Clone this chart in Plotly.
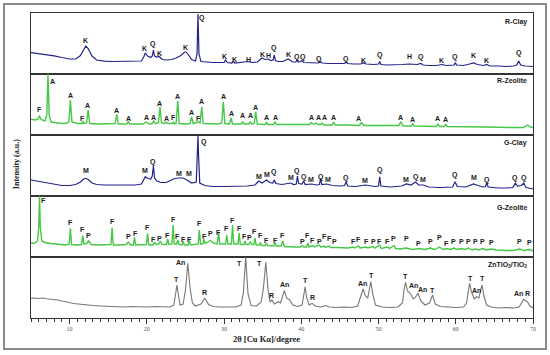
import plotly.graph_objects as go
from plotly.subplots import make_subplots

# ---------------- data: (2theta, intensity a.u.) ----------------
r_clay_pts = [(5,21.3),(6,20.5),(7,19.6),(8,18.2),(9,16.5),(10,15),(10.8,15),(11.4,18.5),(11.8,24),(12.1,28),
    (12.4,25.5),(12.9,18),(13.5,14),(14.5,12.8),(15.5,12.5),(16.5,12.7),(17.5,12.2),(18.5,12.5),(19.3,13),
    (19.6,17),(19.8,21),(20.1,18),(20.5,16.5),(20.7,18),(20.85,24),(21.0,18),(21.3,17),(21.6,17.5),(22.0,14.5),
    (22.6,14),(23.2,14.5),(23.8,16),(24.4,18.5),(24.9,22),(25.1,22),(25.4,19),(25.8,14.5),(26.3,13),(26.5,20),
    (26.62,60),(26.75,20),(27.0,12.5),(27.5,12),(28.5,11.5),(29.5,11.5),(30.0,11.5),(30.2,14),(30.4,11.5),
    (31.0,11),(31.2,12.5),(31.4,11),(32.2,11.5),(33.1,12.5),(33.6,11.5),(34.3,12),(34.9,16),(35.3,14.5),
    (35.7,15),(36.1,13.5),(36.35,14),(36.5,19),(36.65,13.5),(37.0,12.5),(37.6,12.5),(38.3,15),(38.9,12),
    (39.3,12),(39.45,14),(39.6,12),(39.9,12.5),(40.05,13.5),(40.3,11.5),(41.2,11),(42.2,11),(42.45,12.5),
    (42.7,11),(43.5,10.5),(44.5,10.5),(45.6,10.5),(45.8,12),(46.0,10.5),(46.8,10),(47.7,10),(48.0,11),
    (48.4,10),(49.4,9.5),(50.0,10),(50.15,12.5),(50.3,9.5),(51,9),(52,9),(53,9.5),(54,10),(55,9.5),
    (55.45,10.5),(55.8,9),(56.5,8.5),(57.5,8.5),(58.2,9.5),(58.8,8.5),(59.8,9),(59.95,11.5),(60.1,9),
    (61.0,8.5),(61.8,10),(62.3,11),(62.8,9.5),(63.6,8.5),(64.0,9.5),(64.4,8),(65.5,8),(66.5,7.5),(67.5,8),
    (67.9,9),(68.15,13),(68.4,9),(69.0,8),(70,7.5)]

r_zeo_pts = [(5,15.7),(5.6,15),(5.9,16),(6.1,19.3),(6.3,15.5),(6.8,14),(7.05,20),(7.2,61),(7.35,20),(7.6,13),
    (8.5,12),(9.5,11.5),(9.9,13),(10.1,35),(10.3,13),(11.0,11.5),(11.6,11.5),(11.7,14),(11.85,11.5),(12.2,12),
    (12.4,25),(12.6,11.5),(13.5,11),(14.5,11.2),(15.0,11.5),(15.9,11.5),(16.1,20.7),(16.3,11),(17.4,11),
    (17.6,13.5),(17.8,11),(18.5,11),(19.5,11),(19.9,13),(20.3,11),(20.7,11.5),(20.9,14),(21.1,11.5),(21.5,12),
    (21.7,28.3),(21.9,12),(22.3,11.5),(22.5,13),(22.7,11.5),(23.3,11.5),(23.45,13),(23.6,11),(23.8,12),
    (24.0,34),(24.2,11.5),(25.0,11),(25.6,11.5),(25.8,18),(26.0,11.5),(26.6,13),(26.9,12),(27.1,28.3),
    (27.3,11.5),(28.5,11),(29.2,11),(29.7,12),(29.9,33.3),(30.1,11.5),(30.7,11),(30.9,17),(31.1,11),(32.2,11),
    (32.4,13),(32.6,11),(33.2,11),(33.4,13),(33.6,11),(33.9,11.5),(34.1,23.3),(34.3,11),(35.3,10.5),(35.5,12.5),
    (35.7,10.5),(36.4,10.5),(36.6,13),(36.8,10.5),(38,10.5),(39.5,10),(40.5,10),(41.1,10.5),(41.3,12.5),
    (41.6,10.5),(41.9,12),(42.2,10.5),(42.5,10.5),(42.7,12),(42.9,10),(44.0,10),(44.2,13),(44.4,10),(46,10),
    (47.5,9.5),(47.8,12.5),(48.1,9.5),(50,9.5),(52.6,9.5),(52.9,13),(53.2,9),(54.2,9),(54.4,11),(54.6,9),
    (56,8.5),(57.5,8.5),(57.7,11),(57.9,8.5),(58.5,8.5),(58.7,10.5),(58.9,8.5),(61,8),(64,8),(67,7.5),
    (68.8,7.5),(69.3,10),(69.7,8),(70,7.5)]

g_clay_pts = [(5,16),(6,14.5),(7,13),(8,11.5),(9,10.5),(10,10.5),(10.8,11.5),(11.4,14),(11.8,17),(12.1,17.7),
    (12.4,16.5),(12.9,13),(13.5,11.5),(14.5,11),(15.5,11),(16.5,11),(17.5,11),(18.5,11),(19.3,12),(19.6,16.5),
    (19.8,19.3),(20.1,17.5),(20.5,17),(20.7,20),(20.85,30),(21.0,18),(21.3,15),(21.8,13.5),(22.5,13.5),
    (23.2,16),(23.6,17.5),(24.2,18),(24.7,18),(25.2,16),(25.8,13),(26.4,14),(26.55,40),(26.62,60),(26.7,40),
    (26.85,13),(27.5,10.5),(28.5,9.5),(30,9.5),(31.5,9.5),(33,10),(34,11),(34.5,15),(34.9,13),(35.5,16),
    (35.9,13.5),(36.3,13),(36.5,16),(36.7,12.5),(37.5,11.5),(38.2,12),(38.6,13),(39.0,11.5),(39.35,12),
    (39.5,20),(39.65,12.5),(40.1,12),(40.3,15),(40.5,11.5),(41.3,12),(42.0,11),(42.35,11.5),(42.5,17.7),
    (42.65,11.5),(43.3,12),(44.0,10.5),(45.0,10),(45.6,10.5),(45.8,14),(46.0,10),(47,9.5),(48.3,11),(49.5,9.5),
    (50.0,10),(50.15,19.3),(50.3,10),(51.5,9),(53,10),(53.6,12),(54.2,11),(54.8,14),(55.2,11),(55.8,11),
    (56.5,9),(58,8.5),(59.6,9),(59.9,14.3),(60.2,9.5),(61.3,9),(62.0,11),(62.3,12),(62.7,11),(63.5,9),
    (63.85,9.5),(64.0,13),(64.2,9),(65.5,8),(66.5,8),(67.4,8.5),(67.7,13),(68.0,10),(68.5,10.5),(68.8,13),
    (69.1,8.5),(70,7)]

g_zeo_pts = [(5,13.7),(5.5,14),(5.85,16),(6.0,30),(6.1,61),(6.2,30),(6.4,16),(6.8,14.5),(7.5,13.5),(8.5,12.5),
    (9.5,12),(9.95,13),(10.1,28.7),(10.25,12.5),(11.0,12),(11.55,12.5),(11.7,21.3),(11.85,13),(12.2,13.5),
    (12.45,16),(12.8,12.5),(13.5,12),(14.5,12),(15.35,12.5),(15.5,29.3),(15.65,12),(16.5,12),(17.3,12.5),
    (17.6,15),(17.9,12),(18.25,12),(18.4,19.7),(18.55,12),(19.5,12),(19.95,12.5),(20.1,23.7),(20.25,12),
    (20.8,12),(21.0,15),(21.2,12.5),(21.55,13),(21.75,16),(22.0,12.5),(22.55,12.5),(22.7,18),(22.85,12.5),
    (23.25,13),(23.4,32),(23.55,13),(23.85,13),(24.0,17),(24.15,12.5),(24.55,12),(24.7,15.5),(24.85,12),
    (25.35,12),(25.5,16.5),(25.65,12),(26.1,12.5),(26.65,13),(26.8,27),(26.95,13),(27.25,13),(27.4,18),
    (27.55,13.5),(27.9,15),(28.2,16.5),(28.6,14),(29.1,13),(29.3,24),(29.45,13),(30.2,13),(30.35,22),
    (30.5,13),(30.95,13),(31.1,32),(31.25,13),(31.8,13),(31.95,24),(32.1,12.5),(32.55,12.5),(32.7,16),
    (32.85,12.5),(33.2,12.5),(33.4,15),(33.6,12.5),(33.85,12.5),(34.0,19),(34.15,12),(34.55,12),(34.7,14.5),
    (34.85,11.5),(35.35,11.5),(35.5,13.5),(35.65,11.5),(36.45,11),(36.6,14.5),(36.75,11),(37.4,11),(37.6,16),
    (37.8,10.5),(39,10),(39.9,10),(40.1,11.5),(40.3,10),(40.7,10),(40.85,14),(41.0,10),(41.5,11.5),(41.7,10),
    (42.3,12),(42.5,10),(42.95,11),(43.1,9.5),(43.6,11),(43.8,9.5),(44.35,10),(44.6,9.5),(46,9),(46.7,10),
    (46.9,9),(47.4,11),(47.6,9),(48.4,10),(48.6,9),(49.3,10.5),(49.5,9),(50.15,12),(50.35,8.5),(51.2,10),
    (51.4,8.5),(52.0,11.5),(52.2,8.5),(52.8,8),(53.6,9),(54.4,7.5),(55.2,8.5),(56.0,7.5),(56.7,9),(57.3,7.5),
    (57.9,10),(58.35,7.5),(58.8,8.5),(59.3,7.5),(59.75,9),(60.2,7.5),(60.7,8.5),(61.2,7.5),(61.65,9),
    (62.1,7),(62.55,8),(63.0,7),(63.5,8.5),(64.0,7),(64.6,8),(65.2,7),(66.5,6.5),(67.5,6.5),(68.25,8),
    (68.8,6.5),(69.6,7.5),(70,6)]

zt_pts = [(5,19.7),(5.5,20),(6,19.5),(6.5,20),(7,19.3),(7.5,19),(8,18.5),(8.5,18),(9,17),(9.5,16.5),(10,15.5),
    (10.5,14.5),(11,14),(12,13),(13,12.5),(14,12),(15,11.5),(16,11.5),(17,11),(18,11.5),(19,11),(20,11),
    (21,11.5),(22,11),(23,11),(23.5,13),(23.75,25),(23.9,33),(24.05,25),(24.3,13),(24.7,14),(25.0,28),
    (25.3,54.7),(25.6,30),(25.9,15),(26.3,12),(27.0,14),(27.5,19.7),(28.0,13.5),(28.6,11.5),(29.5,11),
    (30.5,11),(31.5,11),(32.2,13),(32.5,25),(32.8,60.7),(33.1,24),(33.5,12.5),(34.2,12),(34.8,16),(35.1,30),
    (35.4,55.7),(35.7,28),(35.95,16),(36.2,18),(36.5,14),(37.0,16.3),(37.3,15),(37.6,22),(37.8,27.3),
    (38.1,20),(38.5,18),(38.9,13),(39.5,11.5),(40.1,13),(40.3,22),(40.5,31.3),(40.7,20),(41.0,13),(41.4,14.7),
    (41.8,12),(42.5,11),(43.2,12.5),(43.6,11),(44.5,10.5),(45.5,11),(46.5,10.5),(47.3,12),(47.7,22),(48.0,29),
    (48.3,22),(48.6,20),(48.8,28),(49.0,36.3),(49.25,24),(49.6,13),(50.5,11),(51.5,10.5),(52.5,11),(53.1,15),
    (53.3,28),(53.5,35.7),(53.75,27),(54.1,24.7),(54.5,19),(54.8,21),(55.1,24.7),(55.5,17),(56.0,13),
    (56.6,15),(57.0,23),(57.35,14),(58,11.5),(59,11),(60,10.5),(61,11),(61.4,15),(61.65,28),(61.8,34.7),
    (62.0,27),(62.4,19),(62.7,21.3),(63.0,20),(63.2,27),(63.4,33),(63.65,22),(64.0,13),(64.6,11),(65.5,10),
    (66.5,10.5),(67.5,10),(68.2,11),(68.5,15),(68.8,18.7),(69.1,17),(69.3,16),(69.6,12),(70,10)]

# ---------------- peak labels: (text, 2theta, height) ----------------
r_clay_labels = [("K",12.1,33.3),("K",19.7,25.7),("Q",20.8,29.7),("K",21.6,20.7),("K",25.05,26.7),
    ("Q",27.1,55.7),("K",30.1,18),("K",31.3,14.7),("H",33.1,15),("K",34.95,20),("H",35.8,19),("Q",36.5,26.3),
    ("K",38.3,20),("Q",39.4,17.3),("Q",40.2,17.3),("Q",42.3,14.7),("Q",45.8,14.7),("K",48.0,13.3),
    ("Q",50.15,19),("H",54.0,17.3),("Q",55.45,17.3),("K",58.2,13.3),("Q",59.9,17.3),("K",62.3,19),
    ("K",64.0,14),("Q",68.2,21.3)]

r_zeo_labels = [("A",7.8,53.7),("F",6.1,25.7),("A",10.15,39.3),("F",11.7,16.7),("A",12.35,29.3),("A",16.1,24),
    ("A",17.6,16),("A",19.9,17.3),("A",20.9,17.3),("A",21.7,31.7),("A",22.5,16),("F",23.4,17.7),("A",24.0,38.3),
    ("A",25.8,22.7),("F",26.7,16.7),("A",27.1,33.3),("A",29.9,38.3),("A",30.9,21.7),("A",32.4,19),
    ("A",33.4,19),("A",34.1,27.7),("A",35.5,17.7),("A",36.6,17.7),("A",41.3,17.3),("A",42.2,17.3),
    ("A",43.05,17.3),("A",44.2,17.7),("A",47.35,16.7),("A",52.9,17.7),("A",54.4,15.7),("A",57.6,16),
    ("A",58.7,15.7)]

g_clay_labels = [("M",12.1,25),("M",19.7,25),("Q",20.8,34.3),("M",24.2,22.7),("M",25.4,22.7),("Q",27.4,53.7),
    ("M",34.5,19.3),("M",35.5,21.7),("Q",36.5,23.7),("M",38.6,18.3),("Q",39.5,25),("Q",40.4,19.3),
    ("M",41.3,16),("Q",42.5,19.3),("M",43.5,16),("Q",45.8,18.3),("M",48.3,15),("Q",50.15,26),("M",53.6,16),
    ("Q",54.8,19.3),("M",55.8,16),("Q",59.9,21),("M",62.3,18.3),("Q",64.0,16),("Q",67.7,18.3),("Q",68.8,18.3)]

g_zeo_labels = [("F",6.65,57),("F",10.1,34.7),("F",11.7,28),("P",12.5,21.3),("F",15.5,35.3),("P",17.6,20.3),
    ("F",18.5,23.7),("F",20.1,29.3),("F",20.9,18),("P",21.6,18.7),("F",22.7,22),("F",23.45,38),("F",24.0,20.3),
    ("F",24.7,18),("F",25.5,18),("F",26.8,33.7),("F",27.4,20.3),("P",28.2,23.7),("F",29.3,24.7),
    ("F",30.35,28.7),("F",31.1,36.3),("F",31.95,28.7),("F",32.7,20.3),("P",33.35,19.3),("F",34.0,25.3),
    ("F",34.7,21.3),("F",35.5,17),("F",36.6,17),("F",37.6,22),("P",40.1,15.3),("F",40.8,21.3),("F",41.5,17),
    ("P",42.3,16),("F",42.95,20.3),("F",43.6,18.7),("P",44.35,15.3),("F",46.7,16),("F",47.4,18),("F",48.4,16),
    ("P",49.3,16),("F",50.15,16),("F",51.2,16),("P",52.0,18.7),("P",53.6,18.7),("P",55.2,13.7),("P",56.7,15.3),
    ("P",57.9,19.3),("F",58.8,13.7),("P",59.75,15.3),("P",60.7,16),("P",61.65,16),("P",62.55,16),("P",63.5,16),
    ("P",64.6,14.7),("P",68.25,15.3),("P",69.6,14.7)]

zt_labels = [("T",23.9,38.7),("An",24.3,55.3),("R",27.45,25.7),("T",32.0,54.7),("T",34.65,54.7),("R",36.15,22.3),
    ("An",37.8,34),("T",40.55,37.3),("R",41.45,20.7),("An",47.9,34.7),("T",49.1,43),("T",53.5,41.3),
    ("An",54.5,32.3),("An",55.75,29),("T",56.95,27.3),("T",61.9,39.7),("An",62.65,27.3),("T",63.4,39.7),
    ("An",68.15,24.7),("R",69.25,24.7)]

panel_names = ["R-Clay", "R-Zeolite", "G-Clay", "G-Zeolite", "ZnTiO<sub>3</sub>/TiO<sub>2</sub>"]
panel_name_y = [51.7, 54, 53.3, 49.3, 53]
x_ticks = [10, 20, 30, 40, 50, 60, 70]

series = [
    (r_clay_pts, r_clay_labels, "#23238c", 1.2),
    (r_zeo_pts, r_zeo_labels, "#45c845", 1.4),
    (g_clay_pts, g_clay_labels, "#23238c", 1.2),
    (g_zeo_pts, g_zeo_labels, "#45c845", 1.4),
    (zt_pts, zt_labels, "#777777", 1.1),
]

fig = make_subplots(rows=5, cols=1, shared_xaxes=True, vertical_spacing=0)

LBL_FONT = dict(family="Liberation Sans, Arial, sans-serif", size=7, color="#1a1a1a")

for i, (pts, labels, color, w) in enumerate(series):
    r = i + 1
    fig.add_trace(go.Scatter(x=[p[0] for p in pts], y=[p[1] for p in pts], mode="lines",
                             line=dict(color=color, width=w), showlegend=False, hoverinfo="skip"),
                  row=r, col=1)
    for txt, xv, yv in labels:
        fig.add_annotation(x=xv, y=yv, text="<b>%s</b>" % txt, showarrow=False,
                           xanchor="center", yanchor="middle", font=LBL_FONT, row=r, col=1)
    yref = "y" if r == 1 else "y%d" % r
    fig.add_annotation(x=0.992, xref="paper", y=panel_name_y[i], yref=yref,
                       text="<b>%s</b>" % panel_names[i], showarrow=False,
                       xanchor="right", yanchor="middle", font=LBL_FONT)

fig.update_yaxes(range=[0, 61], showticklabels=False, ticks="", showgrid=False, zeroline=False,
                 showline=True, mirror=True, linecolor="#333333", linewidth=1)
fig.update_xaxes(range=[5, 70], showgrid=False, zeroline=False, showline=True, mirror=True,
                 linecolor="#333333", linewidth=1, showticklabels=False, ticks="")
fig.update_xaxes(row=5, col=1, showticklabels=True, ticks="outside", tickmode="array", tickvals=x_ticks,
                 ticklen=5, tickwidth=1, tickcolor="#333333",
                 tickfont=dict(family="Liberation Serif, serif", size=6, color="#555555"),
                 minor=dict(tickmode="linear", tick0=5, dtick=1, ticks="outside", ticklen=3,
                            tickwidth=1, tickcolor="#333333"))

# axis titles
fig.add_annotation(x=-0.0275, y=0.505, xref="paper", yref="paper", text="<b>Intensity (a.u.)</b>",
                   textangle=-90, showarrow=False, xanchor="center", yanchor="middle",
                   font=dict(family="Liberation Serif, serif", size=8, color="#222222"))
fig.add_annotation(x=0.47, y=-0.07, xref="paper", yref="paper", text="<b>2θ [Cu Kα]/degree</b>",
                   showarrow=False, xanchor="center", yanchor="middle",
                   font=dict(family="Liberation Serif, serif", size=8.5, color="#222222"))

# outer frame
fig.add_shape(type="rect", xref="paper", yref="paper", x0=-0.0538, x1=1.0259, y0=-0.1016, y1=1.0295,
              line=dict(color="#8a8a8a", width=2), fillcolor="rgba(0,0,0,0)", layer="below")

fig.update_layout(width=550, height=355, margin=dict(l=31, r=17, t=13, b=37),
                  paper_bgcolor="white", plot_bgcolor="white", showlegend=False)

fig.write_html("out.html", config={"displayModeBar": False},
               post_script="document.body.style.margin='0';document.body.style.padding='0';"
                           "document.body.style.overflow='hidden';")
